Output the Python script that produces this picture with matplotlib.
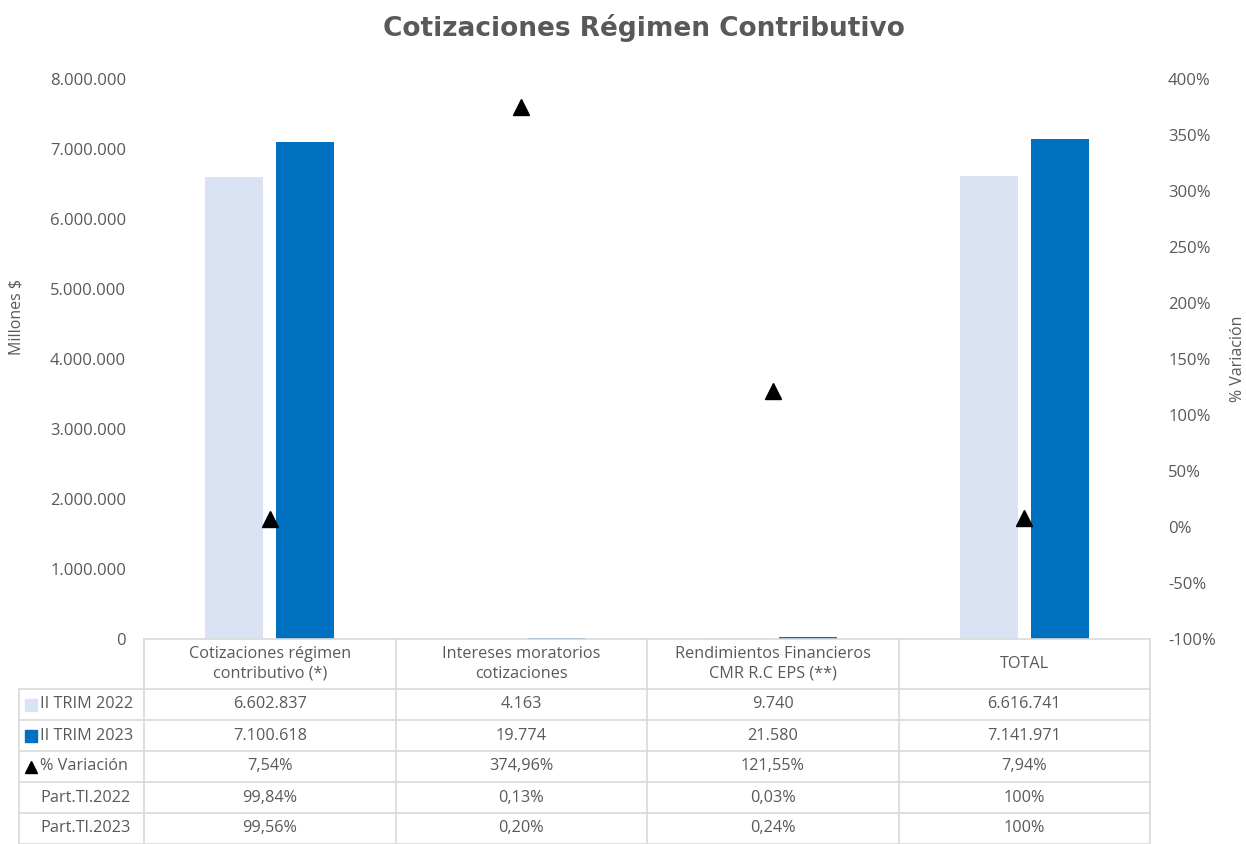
import matplotlib.pyplot as plt
import numpy as np

plt.rcParams['font.family'] = ['Open Sans', 'DejaVu Sans']

categorias = ["Cotizaciones régimen\ncontributivo (*)", "Intereses moratorios\ncotizaciones",
              "Rendimientos Financieros\nCMR R.C EPS (**)", "TOTAL"]
trim_2022 = [6602837, 4163, 9740, 6616741]
trim_2023 = [7100618, 19774, 21580, 7141971]
variacion = [7.54, 374.96, 121.55, 7.94]
part_2022 = [99.84, 0.13, 0.03, 100]
part_2023 = [99.56, 0.20, 0.24, 100]

c_2022 = "#DAE3F3"
c_2023 = "#0070C0"
gris = "#595959"
linea = "#D9D9D9"

W, H = 1246, 844
fig = plt.figure(figsize=(W / 100, H / 100), dpi=100)

# plot area in pixels
x0, x1, ytop, ybot = 144, 1150, 79, 639
ax = fig.add_axes([x0 / W, 1 - ybot / H, (x1 - x0) / W, (ybot - ytop) / H])
n = len(categorias)
x = np.arange(n)
off = 0.141
bw = 0.231
ax.bar(x - off, trim_2022, bw, color=c_2022, zorder=2)
ax.bar(x + off, trim_2023, bw, color=c_2023, zorder=2)
ax.set_xlim(-0.5, n - 0.5)
ax.set_ylim(0, 8000000)
ax.set_yticks(np.arange(0, 8000001, 1000000))
ax.set_yticklabels([f"{v:,}".replace(",", ".") for v in ax.get_yticks().astype(int)])
ax.set_xticks([])
for s in ax.spines.values():
    s.set_visible(False)
ax.tick_params(axis='y', length=0, pad=13, labelsize=12, labelcolor=gris)
ax.set_ylabel("Millones $", color=gris, fontsize=11.5)
ax.yaxis.set_label_coords((25 - x0) / (x1 - x0), (ybot - 317) / (ybot - ytop))

ax2 = ax.twinx()
ax2.plot(x, variacion, linestyle='none', marker='^', color='black', markersize=11, zorder=3)
ax2.set_ylim(-100, 400)
ax2.set_yticks(np.arange(-100, 401, 50))
ax2.set_yticklabels([f"{v}%" for v in range(-100, 401, 50)])
for s in ax2.spines.values():
    s.set_visible(False)
ax2.tick_params(axis='y', length=0, pad=13, labelsize=12, labelcolor=gris)
ax2.set_ylabel("% Variación", color=gris, fontsize=11.5, rotation=90)
ax2.yaxis.set_label_coords((1230 - x0) / (x1 - x0), 0.5)

fig.text(644 / W, 1 - 28 / H, "Cotizaciones Régimen Contributivo", ha='center', va='center',
         fontsize=19, fontweight='bold', color=gris, family=['DejaVu Sans'])

# table below the plot
tx = fig.add_axes([0, 0, 1, 1])
tx.set_xlim(0, W)
tx.set_ylim(H, 0)
tx.axis('off')

lab_x0 = 19
col_w = (x1 - x0) / n
head_h = 50
row_h = 31


def fmt_num(v):
    return f"{v:,}".replace(",", ".")


def fmt_pct(v):
    if v == 100:
        return "100%"
    return f"{v:.2f}%".replace(".", ",")


filas = [
    ("II TRIM 2022", [fmt_num(v) for v in trim_2022], ('s', c_2022)),
    ("II TRIM 2023", [fmt_num(v) for v in trim_2023], ('s', c_2023)),
    ("% Variación", [fmt_pct(v) for v in variacion], ('^', 'black')),
    ("Part.Tl.2022", [fmt_pct(v) for v in part_2022], None),
    ("Part.Tl.2023", [fmt_pct(v) for v in part_2023], None),
]

fs = 11.7
lw = 1.2
# header
tx.plot([x0, x1], [ybot, ybot], color=linea, lw=lw)
for i in range(n + 1):
    tx.plot([x0 + i * col_w] * 2, [ybot, H], color=linea, lw=lw)
for i, c in enumerate(categorias):
    tx.text(x0 + (i + 0.5) * col_w, ybot + head_h / 2, c, ha='center', va='center',
            fontsize=fs, color=gris, linespacing=1.3)
# rows
y = ybot + head_h
tx.plot([lab_x0, lab_x0], [y, H], color=linea, lw=lw)
for nombre, vals, key in filas:
    tx.plot([lab_x0, x1], [y, y], color=linea, lw=lw)
    yc = y + row_h / 2
    if key is not None:
        tx.plot(31, yc, marker=key[0], color=key[1], markersize=8 if key[0] == 's' else 9,
                linestyle='none')
    tx.text(40, yc, nombre, ha='left', va='center', fontsize=fs, color=gris)
    for i, v in enumerate(vals):
        tx.text(x0 + (i + 0.5) * col_w, yc, v, ha='center', va='center', fontsize=fs, color=gris)
    y += row_h
tx.plot([lab_x0, x1], [H - 0.5, H - 0.5], color=linea, lw=lw)

fig.savefig("out.png", dpi=100)
